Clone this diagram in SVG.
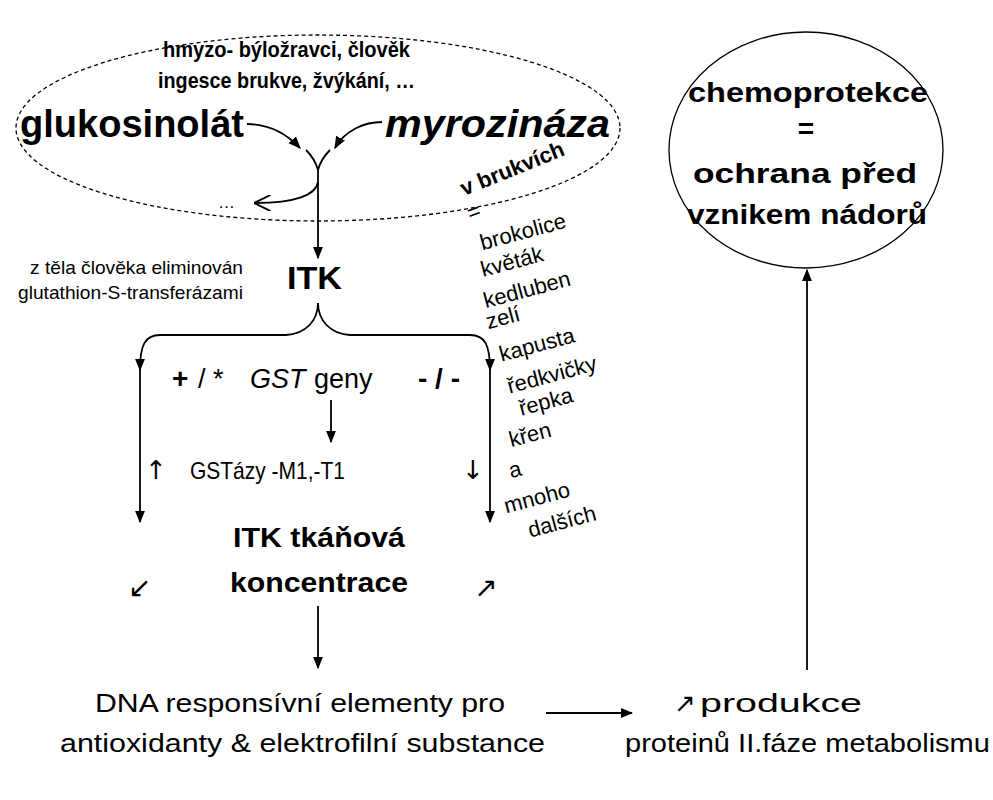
<svg xmlns="http://www.w3.org/2000/svg" width="993" height="800" viewBox="0 0 993 800">
<style>
text{font-family:"Liberation Sans",Arial,sans-serif;fill:#000}
.b{font-weight:bold}
.c{text-anchor:middle}
.ar{font-family:"DejaVu Sans",sans-serif}
.ln{fill:none;stroke:#000;stroke-width:1.8}
.veg{font-size:22px;text-anchor:middle}
</style>
<defs>
<marker id="ah" viewBox="0 0 10 10" refX="9" refY="5" markerWidth="7" markerHeight="7" orient="auto"><path d="M0,1 L10,5 L0,9 z" fill="#000"/></marker>
<marker id="oa" viewBox="0 0 10 10" refX="9" refY="5" markerWidth="9" markerHeight="9" orient="auto"><path d="M0,0 L10,5 L0,10" fill="none" stroke="#000" stroke-width="1.2"/></marker>
</defs>
<rect width="993" height="800" fill="#fff"/>
<g id="source">
<ellipse cx="318" cy="128" rx="302" ry="93" fill="none" stroke="#000" stroke-width="1.3" stroke-dasharray="4,3"/>
<text class="b" x="163" y="57" font-size="22" textLength="247" lengthAdjust="spacingAndGlyphs">hmyzo- býložravci, člověk</text>
<text class="b" x="158" y="88" font-size="22" textLength="257" lengthAdjust="spacingAndGlyphs">ingesce brukve, žvýkání, …</text>
<text class="b" x="20" y="137" font-size="38" textLength="224" lengthAdjust="spacingAndGlyphs">glukosinolát</text>
<text class="b" x="385" y="137" font-size="38" font-style="italic" textLength="225" lengthAdjust="spacingAndGlyphs">myrozináza</text>
<text x="218" y="208" font-size="17">…</text>
</g>
<g id="veg">
<text class="b c" x="512" y="176" font-size="22" transform="rotate(-22 512 168)">v brukvích</text>
<text class="veg" x="474" y="219" transform="rotate(-20 474 212)">=</text>
<text class="veg" x="523" y="239" transform="rotate(-15 523 232)">brokolice</text>
<text class="veg" x="512" y="269" transform="rotate(-15 512 262)">květák</text>
<text class="veg" x="527" y="297" transform="rotate(-15 527 290)">kedluben</text>
<text class="veg" x="503" y="325" transform="rotate(-15 503 318)">zelí</text>
<text class="veg" x="537" y="352" transform="rotate(-15 537 345)">kapusta</text>
<text class="veg" x="552" y="382" transform="rotate(-15 552 375)">ředkvičky</text>
<text class="veg" x="546" y="409" transform="rotate(-15 546 402)">řepka</text>
<text class="veg" x="530" y="442" transform="rotate(-15 530 435)">křen</text>
<text class="veg" x="515" y="477" transform="rotate(-15 515 470)">a</text>
<text class="veg" x="537" y="505" transform="rotate(-15 537 498)">mnoho</text>
<text class="veg" x="562" y="529" transform="rotate(-15 562 522)">dalších</text>
</g>
<g id="itk">
<text class="b" x="287" y="289" font-size="32" textLength="55" lengthAdjust="spacingAndGlyphs">ITK</text>
<text x="30" y="274" font-size="19" textLength="213" lengthAdjust="spacingAndGlyphs">z těla člověka eliminován</text>
<text x="18" y="299" font-size="19" textLength="225" lengthAdjust="spacingAndGlyphs">glutathion-S-transferázami</text>
</g>
<g id="genes">
<text class="b" x="172" y="388" font-size="28">+</text>
<text x="198" y="388" font-size="27">/ *</text>
<text x="250" y="388" font-size="27" font-style="italic">GST</text>
<text x="314" y="388" font-size="27">geny</text>
<text class="b" x="418" y="388" font-size="28">- / -</text>
<text class="ar" x="145" y="479" font-size="26">↑</text>
<text x="190" y="479" font-size="24" textLength="155" lengthAdjust="spacingAndGlyphs">GSTázy -M1,-T1</text>
<text class="ar" x="462" y="479" font-size="26">↓</text>
</g>
<g id="conc">
<text class="b" x="233" y="547" font-size="28" textLength="172" lengthAdjust="spacingAndGlyphs">ITK tkáňová</text>
<text class="b" x="230" y="592" font-size="28" textLength="178" lengthAdjust="spacingAndGlyphs">koncentrace</text>
<text class="ar" x="128" y="597" font-size="28">↙</text>
<text class="ar" x="474" y="597" font-size="28">↗</text>
</g>
<g id="dna">
<text x="95" y="712" font-size="26" textLength="410" lengthAdjust="spacingAndGlyphs">DNA responsívní elementy pro</text>
<text x="60" y="752" font-size="26" textLength="485" lengthAdjust="spacingAndGlyphs">antioxidanty &amp; elektrofilní substance</text>
</g>
<g id="prod">
<text class="ar" x="674" y="712" font-size="26">↗</text>
<text x="700" y="712" font-size="26" textLength="162" lengthAdjust="spacingAndGlyphs">produkce</text>
<text x="625" y="752" font-size="26" textLength="365" lengthAdjust="spacingAndGlyphs">proteinů II.fáze metabolismu</text>
</g>
<g id="chemo">
<ellipse cx="806" cy="150" rx="137" ry="118" fill="none" stroke="#000" stroke-width="1.3"/>
<text class="b" x="688" y="102" font-size="28" textLength="240" lengthAdjust="spacingAndGlyphs">chemoprotekce</text>
<text class="b c" x="806" y="138" font-size="28">=</text>
<text class="b" x="693" y="183" font-size="28" textLength="224" lengthAdjust="spacingAndGlyphs">ochrana před</text>
<text class="b" x="687" y="224" font-size="28" textLength="240" lengthAdjust="spacingAndGlyphs">vznikem nádorů</text>
</g>
<g id="connectors">
<path class="ln" d="M247,124 C268,124 285,132 300,148" marker-end="url(#ah)" stroke-width="1.4"/>
<path class="ln" d="M382,122 C365,122 345,130 335,148" marker-end="url(#ah)" stroke-width="1.4"/>
<path class="ln" d="M306,150 C312,156 316,162 318,170 C320,162 324,156 330,150" stroke-width="1.2"/>
<path class="ln" d="M318,168 L318,258" marker-end="url(#ah)" stroke-width="1.6"/>
<path class="ln" d="M318,182 C316,195 295,203 256,203" marker-end="url(#oa)" stroke-width="1.4"/>
<path class="ln" d="M318,303 C318,320 330,334 350,335 L470,335 C485,335 490,345 490,370" marker-end="url(#ah)" stroke-width="1.4"/>
<path class="ln" d="M318,303 C318,320 306,334 286,335 L160,335 C145,335 140,345 140,370" marker-end="url(#ah)" stroke-width="1.4"/>
<path class="ln" d="M140,370 L140,522" marker-end="url(#ah)" stroke-width="1.4"/>
<path class="ln" d="M490,370 L490,522" marker-end="url(#ah)" stroke-width="1.4"/>
<path class="ln" d="M331,400 L331,442" marker-end="url(#ah)" stroke-width="1.3"/>
<path class="ln" d="M318,606 L318,668" marker-end="url(#ah)" stroke-width="1.8"/>
<path class="ln" d="M546,713 L632,713" marker-end="url(#ah)" stroke-width="1.8"/>
<path class="ln" d="M807,670 L807,270" marker-end="url(#ah)" stroke-width="1.6"/>
</g>
</svg>
